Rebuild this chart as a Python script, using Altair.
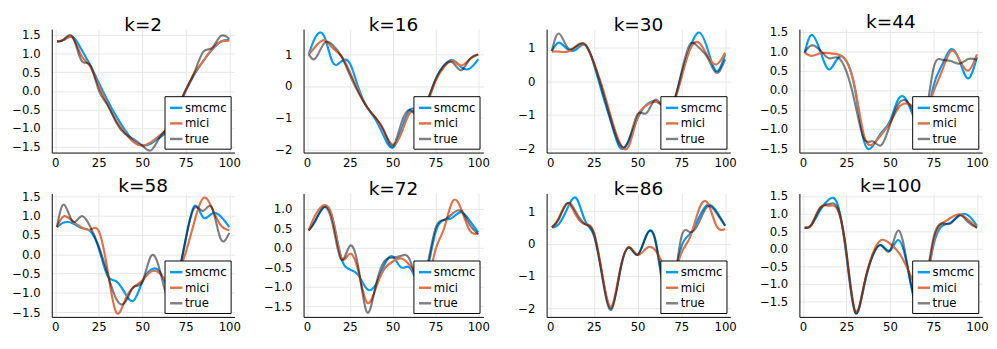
import altair as alt
import pandas as pd

X = [1, 5, 10, 15, 20, 25, 30, 35, 40, 45, 50, 55, 60, 65, 70, 75, 80, 85, 90, 95, 100]
SERIES = ["smcmc", "mici", "true"]
COLORS = ["#009AFA", "#E36F47", "rgba(0,0,0,0.5)"]

K2_S = [1.33, 1.37, 1.45, 1.12, 0.70, 0.22, -0.25, -0.68, -1.05, -1.35, -1.47, -1.42, -1.25, -1.05, -0.55, 0.00, 0.45, 0.80, 1.10, 1.32, 1.37]
K2_M = [1.33, 1.38, 1.43, 0.95, 0.66, 0.13, -0.35, -0.80, -1.12, -1.38, -1.47, -1.38, -1.20, -0.98, -0.50, 0.02, 0.47, 0.80, 1.12, 1.32, 1.35]
K2_T = [1.33, 1.38, 1.45, 0.82, 0.70, 0.02, -0.38, -0.85, -1.15, -1.30, -1.47, -1.60, -1.25, -0.95, -0.48, 0.03, 0.50, 1.05, 1.15, 1.47, 1.40]

K16_S = [1.00, 1.55, 1.58, 0.75, 0.78, 0.72, -0.05, -0.66, -1.05, -1.60, -1.95, -1.40, -0.75, -0.75, -0.50, 0.20, 0.65, 0.82, 0.60, 0.55, 0.85]
K16_M = [1.00, 1.25, 1.45, 1.20, 0.95, 0.45, -0.15, -0.66, -1.00, -1.45, -1.85, -1.50, -0.85, -0.80, -0.55, 0.15, 0.60, 0.80, 0.65, 0.85, 1.00]
K16_T = [1.00, 0.88, 1.35, 1.30, 0.95, 0.35, -0.20, -0.66, -1.00, -1.40, -1.90, -1.18, -0.75, -0.95, -0.50, 0.20, 0.65, 0.75, 0.50, 0.85, 1.00]

K30_S = [0.90, 1.15, 0.95, 0.95, 1.08, 0.50, -0.40, -1.25, -1.98, -1.75, -1.10, -0.70, -0.60, -0.75, -0.70, 0.20, 1.00, 1.45, 0.95, 0.30, 0.80]
K30_M = [0.88, 0.88, 0.88, 1.03, 1.08, 0.55, -0.20, -1.10, -1.85, -1.92, -1.05, -0.72, -0.60, -0.75, -0.70, 0.10, 0.95, 1.15, 0.75, 0.50, 0.85]
K30_T = [0.90, 1.42, 1.00, 1.05, 1.10, 0.55, -0.30, -1.20, -1.90, -1.75, -0.98, -0.95, -0.55, -0.80, -0.70, 0.25, 1.10, 1.00, 0.70, 0.25, 0.65]

K44_S = [0.95, 1.42, 1.00, 0.53, 0.82, 0.75, 0.00, -1.30, -1.45, -1.10, -0.80, -0.22, -0.30, -0.85, -0.90, 0.10, 0.65, 1.05, 0.75, 0.30, 0.85]
K44_M = [0.97, 0.88, 0.95, 0.95, 0.92, 0.75, 0.05, -1.15, -1.40, -1.15, -0.85, -0.45, -0.35, -0.50, -0.60, -0.05, 0.50, 1.00, 0.78, 0.50, 0.92]
K44_T = [0.97, 1.15, 1.02, 0.82, 0.84, 0.48, -0.35, -1.25, -1.32, -1.42, -0.90, -0.35, -0.30, -0.70, -0.75, 0.55, 0.78, 0.75, 0.68, 0.80, 0.78]

K58_S = [0.70, 0.82, 0.80, 0.68, 0.60, 0.15, -0.55, -0.70, -1.00, -1.20, -0.72, -0.40, -0.45, -0.85, -0.60, 0.40, 1.25, 0.95, 1.05, 0.98, 0.70]
K58_M = [0.70, 0.98, 0.85, 0.70, 0.63, 0.60, -0.40, -1.50, -1.20, -0.85, -0.68, -0.45, -0.50, -0.70, -0.50, 0.05, 0.85, 1.45, 1.20, 0.75, 0.62]
K58_T = [0.70, 1.28, 0.85, 0.98, 0.72, 0.20, -0.50, -1.15, -1.25, -0.85, -0.72, -0.05, -0.40, -1.15, -0.70, 0.40, 1.20, 1.12, 1.20, 0.40, 0.55]

K72_S = [0.45, 0.72, 1.05, 0.75, -0.25, -0.55, -0.70, -1.05, -0.95, -0.45, -0.22, -0.50, -0.50, -0.90, -0.60, 0.40, 0.72, 0.78, 0.92, 0.70, 0.40]
K72_M = [0.45, 0.85, 1.10, 0.75, -0.25, -0.15, -0.60, -1.40, -1.05, -0.55, -0.35, -0.27, -0.45, -0.80, -0.90, -0.05, 0.50, 1.20, 1.00, 0.45, 0.38]
K72_T = [0.45, 0.70, 1.05, 0.60, -0.30, 0.05, -0.50, -1.65, -1.00, -0.35, -0.25, -0.20, -0.30, -0.90, -0.50, 0.50, 0.72, 0.88, 0.95, 0.60, 0.35]

K86_S = [0.50, 0.60, 1.10, 1.40, 0.70, 0.25, -1.05, -2.00, -0.85, -0.12, -0.35, 0.25, 0.15, -1.30, -1.30, -0.10, 0.30, 0.80, 1.20, 1.00, 0.55]
K86_M = [0.50, 0.80, 1.25, 0.85, 0.60, 0.35, -1.00, -1.95, -0.80, -0.12, -0.35, -0.15, -0.20, -0.70, -1.00, -0.30, 0.20, 1.05, 1.25, 0.55, 0.45]
K86_T = [0.50, 0.75, 1.25, 0.95, 0.60, 0.30, -1.10, -2.05, -0.85, -0.12, -0.35, 0.25, 0.10, -1.50, -1.50, 0.20, 0.35, 0.65, 1.15, 0.95, 0.55]

K100_S = [0.60, 0.68, 1.10, 1.40, 1.25, -0.20, -1.80, -1.10, -0.20, 0.10, -0.05, 0.25, -0.50, -1.60, -1.20, 0.10, 0.65, 0.75, 0.95, 0.95, 0.65]
K100_M = [0.60, 0.70, 1.18, 1.22, 1.10, -0.10, -1.75, -1.05, -0.15, 0.25, 0.15, -0.10, -0.55, -1.10, -1.15, 0.20, 0.72, 0.88, 0.98, 0.82, 0.60]
K100_T = [0.60, 0.68, 1.15, 1.27, 1.15, -0.10, -1.80, -1.05, -0.20, 0.10, -0.05, 0.52, -0.45, -1.50, -1.10, 0.30, 0.72, 0.72, 0.95, 0.75, 0.60]

TICKS_HALF = [-1.5, -1.0, -0.5, 0.0, 0.5, 1.0, 1.5]
TICKS_INT = [-2, -1, 0, 1]

PANELS = [
    (2, K2_S, K2_M, K2_T, [-1.66, 1.66], TICKS_HALF, ".1f"),
    (16, K16_S, K16_M, K16_T, [-2.1, 1.8], TICKS_INT, "d"),
    (30, K30_S, K30_M, K30_T, [-2.12, 1.55], TICKS_INT, "d"),
    (44, K44_S, K44_M, K44_T, [-1.61, 1.57], TICKS_HALF, ".1f"),
    (58, K58_S, K58_M, K58_T, [-1.62, 1.57], TICKS_HALF, ".1f"),
    (72, K72_S, K72_M, K72_T, [-1.77, 1.40], [-1.5, -1.0, -0.5, 0.0, 0.5, 1.0], ".1f"),
    (86, K86_S, K86_M, K86_T, [-2.27, 1.55], TICKS_INT, "d"),
    (100, K100_S, K100_M, K100_T, [-1.93, 1.57], TICKS_HALF, ".1f"),
]

WIDTHS = [188, 185, 189, 188]
EXTENTS = [44, 53, 47, 53]
FONT = "DejaVu Sans"


def panel(i, k, s, m, t, ydom, yticks, yfmt):
    rows = []
    for name, vals in zip(SERIES, [s, m, t]):
        for xv, yv in zip(X, vals):
            rows.append({"x": xv, "y": yv, "series": name})
    df = pd.DataFrame(rows)
    col = i % 4
    axis_common = dict(title=None, domainColor="black", domainWidth=1,
                       gridColor="#e6e6e6", gridWidth=1, ticks=False,
                       labelFont=FONT, labelFontSize=12, labelColor="black")
    return alt.Chart(df).mark_line(strokeWidth=2.2, interpolate="natural", clip=True).encode(
        x=alt.X("x:Q", scale=alt.Scale(domain=[-2, 103], nice=False, zero=False),
                axis=alt.Axis(values=[0, 25, 50, 75, 100], format="d",
                              labelPadding=5, minExtent=16, maxExtent=16, **axis_common)),
        y=alt.Y("y:Q", scale=alt.Scale(domain=ydom, nice=False, zero=False),
                axis=alt.Axis(values=yticks, format=yfmt, labelPadding=12,
                              minExtent=EXTENTS[col], maxExtent=EXTENTS[col], **axis_common)),
        color=alt.Color("series:N", sort=SERIES,
                        scale=alt.Scale(domain=SERIES, range=COLORS),
                        legend=alt.Legend(title=None, orient="bottom-right", offset=4,
                                          strokeColor="black", fillColor="white",
                                          padding=4, rowPadding=2, symbolType="stroke",
                                          symbolSize=160, symbolStrokeWidth=2.5,
                                          labelFontSize=12, labelFont=FONT,
                                          labelColor="black", labelOffset=1,
                                          cornerRadius=0)),
        order=alt.Order("series_order:Q"),
    ).transform_calculate(
        series_order="indexof(['smcmc','mici','true'], datum.series)"
    ).properties(
        width=WIDTHS[col], height=127,
        title=alt.TitleParams(f"k={k}", fontSize=19, font=FONT, fontWeight="normal",
                              color="black", anchor="middle", offset=-6),
    )


charts = [panel(i, *p) for i, p in enumerate(PANELS)]
row1 = alt.hconcat(*charts[:4], spacing=10).resolve_scale(color="independent")
row2 = alt.hconcat(*charts[4:], spacing=10).resolve_scale(color="independent")
chart = alt.vconcat(row1, row2, spacing=8).resolve_scale(color="independent").properties(
    padding=0, background="white"
).configure_view(stroke="transparent")

chart.save("out.html", embed_options={"renderer": "svg", "actions": False})
